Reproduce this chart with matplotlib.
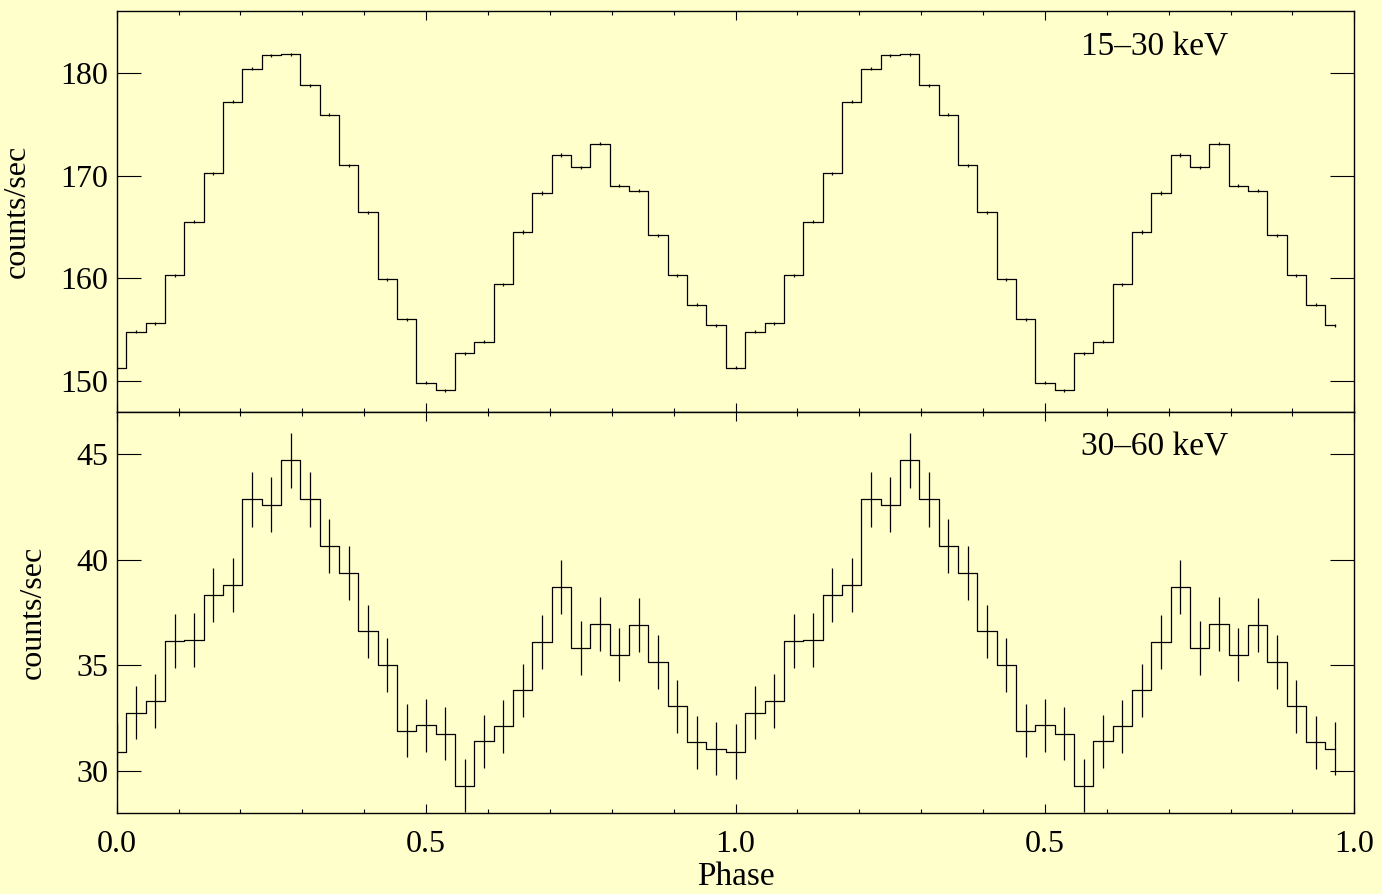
import numpy as np
import matplotlib.pyplot as plt

# Times-like serif for everything
plt.rcParams['font.family'] = ['Liberation Serif', 'DejaVu Serif']

# 32 phase bins per cycle; the profile is drawn twice (phase 0-2)
n_bins = 32

# 15-30 keV folded light curve (counts/sec)
soft_rate = [151.3, 154.8, 155.6, 160.3, 165.5, 170.2, 177.2, 180.4,
             181.7, 181.8, 178.8, 175.9, 171.0, 166.4, 159.9, 156.0,
             149.8, 149.1, 152.7, 153.8, 159.4, 164.5, 168.3, 172.0,
             170.8, 173.1, 169.0, 168.5, 164.2, 160.3, 157.4, 155.4]
soft_err = [0.15] * n_bins

# 30-60 keV folded light curve (counts/sec)
hard_rate = [30.9, 32.75, 33.3, 36.15, 36.2, 38.3, 38.8, 42.85,
             42.6, 44.7, 42.85, 40.65, 39.35, 36.6, 35.0, 31.9,
             32.15, 31.75, 29.3, 31.4, 32.1, 33.8, 36.1, 38.7,
             35.8, 36.95, 35.5, 36.9, 35.15, 33.05, 31.35, 31.05]
hard_err = [1.30, 1.27, 1.27, 1.27, 1.27, 1.28, 1.28, 1.30,
            1.30, 1.31, 1.30, 1.29, 1.28, 1.27, 1.27, 1.26,
            1.26, 1.26, 1.25, 1.26, 1.26, 1.27, 1.27, 1.28,
            1.27, 1.27, 1.27, 1.27, 1.27, 1.26, 1.26, 1.26]

xtick_pos = [0.0, 0.5, 1.0, 1.5, 2.0]
xtick_labels = ['0.0', '0.5', '1.0', '0.5', '1.0']

bg = '#FFFFCC'
W, H = 1382, 894


def style_axes(ax, yticks):
    ax.set_facecolor(bg)
    for sp in ax.spines.values():
        sp.set_linewidth(1.0)
    ax.set_xlim(0, 2)
    ax.set_xticks(xtick_pos)
    ax.set_xticks(np.arange(0, 2.01, 0.1), minor=True)
    ax.set_yticks(yticks)
    ax.tick_params(axis='both', which='both', direction='in',
                   top=True, right=True, width=0.8, labelsize=23)
    ax.tick_params(axis='x', which='major', length=6.2, pad=12.5)
    ax.tick_params(axis='x', which='minor', length=3.1)
    ax.tick_params(axis='y', which='major', length=17.5, pad=6.3)
    ax.tick_params(axis='y', which='minor', length=0)


def draw_profile(ax, rate, err):
    phase = np.arange(2 * n_bins) / n_bins
    r = np.tile(rate, 2)
    e = np.tile(err, 2)
    ax.plot(phase, r, drawstyle='steps-mid', color='black', lw=0.9)
    ax.errorbar(phase, r, yerr=e, fmt='none', ecolor='black',
                elinewidth=0.9, capsize=0)


fig = plt.figure(figsize=(W / 100, H / 100), dpi=100, facecolor=bg)

left = 116.7 / W
width = (1354.3 - 116.7) / W
ax_top = fig.add_axes([left, 1 - 411.7 / H, width, (411.7 - 11.2) / H])
ax_bot = fig.add_axes([left, 1 - 813.0 / H, width, (813.0 - 411.7) / H],
                      sharex=ax_top)

# upper panel
draw_profile(ax_top, soft_rate, soft_err)
style_axes(ax_top, [150, 160, 170, 180])
ax_top.set_ylim(147.0, 186.0)
ax_top.tick_params(axis='x', which='both', labelbottom=False)
ax_top.set_ylabel('counts/sec', fontsize=23)
ax_top.yaxis.set_label_coords((32 - 116.7) / 1237.6, 0.5)
ax_top.text(0.779, 0.889, '15\u201330 keV', transform=ax_top.transAxes,
            fontsize=24, va='baseline', ha='left')

# lower panel
draw_profile(ax_bot, hard_rate, hard_err)
style_axes(ax_bot, [30, 35, 40, 45])
ax_bot.set_ylim(28.0, 47.0)
ax_bot.set_xticklabels(xtick_labels)
ax_bot.set_ylabel('counts/sec', fontsize=23)
ax_bot.yaxis.set_label_coords((48 - 116.7) / 1237.6, 0.5)
ax_bot.set_xlabel('Phase', fontsize=24)
ax_bot.xaxis.set_label_coords(0.5, (813 - 861.5) / 401.3)
ax_bot.text(0.779, 0.890, '30\u201360 keV', transform=ax_bot.transAxes,
            fontsize=24, va='baseline', ha='left')

fig.savefig('out.png', dpi=100, facecolor=bg)
